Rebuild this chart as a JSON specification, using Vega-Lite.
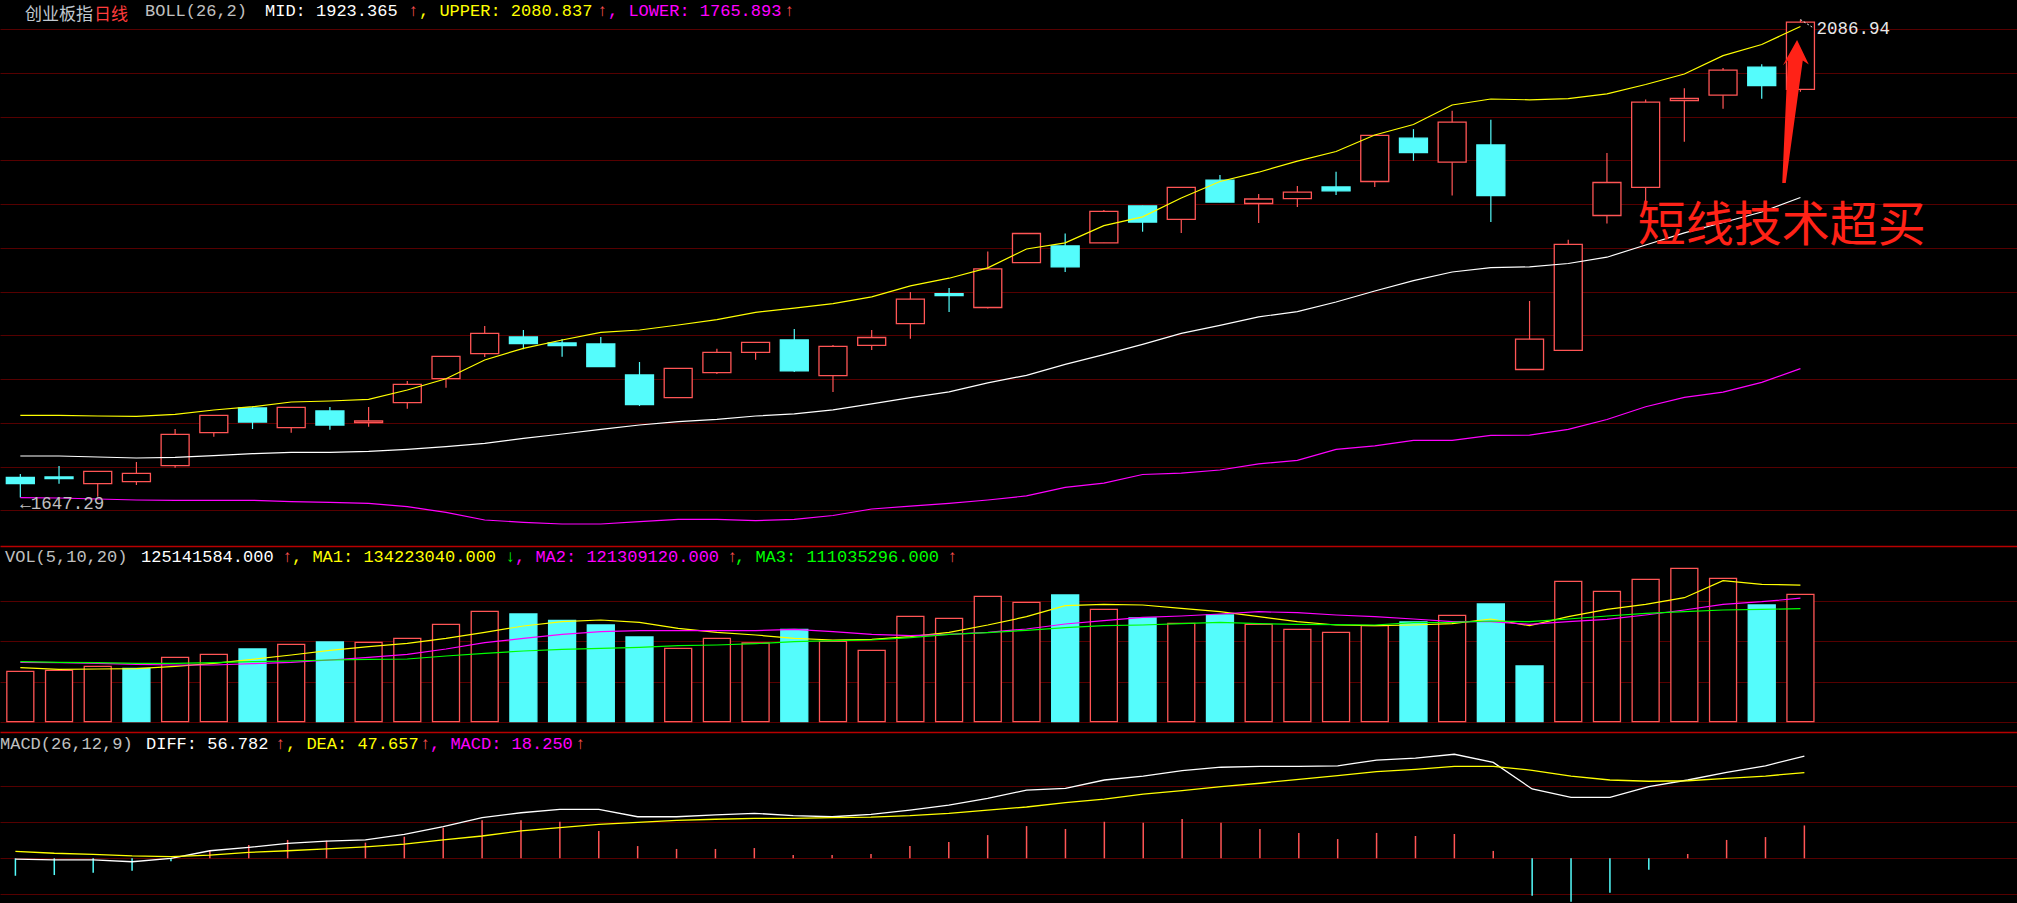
{
"$schema": "https://vega.github.io/schema/vega-lite/v6.json",
"background": "#000000",
"padding": 0,
"spacing": 0,
"bounds": "flush",
"config": {
 "view": {"stroke": null},
 "axis": {"labels": false, "ticks": false, "domain": false, "grid": false, "gridColor": "#560000", "gridWidth": 1, "gridOpacity": 1},
 "text": {"font": "Liberation Mono", "fontSize": 17}
},
"datasets": {
 "k": [
{"i":0,"o":1665.9,"h":1668.94,"l":1647.29,"c":1660.01,"up":1722.96,"mid":1685.5,"lo":1647.13,"vol":49510000,"vup":true,"ma1":53040000,"ma2":58350000,"ma3":58940000,"diff":-0.4,"dea":3.9,"macd":-9.7},
{"i":1,"o":1666.18,"h":1676.3,"l":1660.01,"c":1664.61,"up":1722.96,"mid":1685.5,"lo":1646.85,"vol":50490000,"vup":true,"ma1":51470000,"ma2":57950000,"ma3":58350000,"diff":-0.9,"dea":2.8,"macd":-9.3},
{"i":2,"o":1660.01,"h":1671.6,"l":1648.05,"c":1671.42,"up":1722.32,"mid":1684.58,"lo":1645.93,"vol":54420000,"vup":true,"ma1":51770000,"ma2":57360000,"ma3":57950000,"diff":-0.9,"dea":2.2,"macd":-8.0},
{"i":3,"o":1661.85,"h":1679.98,"l":1658.81,"c":1669.58,"up":1722.04,"mid":1683.66,"lo":1645.01,"vol":52450000,"vup":false,"ma1":52060000,"ma2":56380000,"ma3":57360000,"diff":-1.9,"dea":1.3,"macd":-6.9},
{"i":4,"o":1676.57,"h":1710.35,"l":1674.73,"c":1705.47,"up":1723.88,"mid":1684.31,"lo":1644.73,"vol":63260000,"vup":true,"ma1":54420000,"ma2":55690000,"ma3":57360000,"diff":0.0,"dea":0.9,"macd":-1.6},
{"i":5,"o":1706.94,"h":1723.3,"l":1703.26,"c":1722.96,"up":1727.84,"mid":1685.78,"lo":1644.73,"vol":66200000,"vup":true,"ma1":57360000,"ma2":55690000,"ma3":57950000,"diff":4.2,"dea":1.8,"macd":4.6},
{"i":6,"o":1729.68,"h":1730.87,"l":1710.35,"c":1716.79,"up":1730.87,"mid":1687.62,"lo":1644.73,"vol":71410000,"vup":false,"ma1":61290000,"ma2":56970000,"ma3":58940000,"diff":6.1,"dea":3.3,"macd":7.4},
{"i":7,"o":1711.55,"h":1730.5,"l":1706.95,"c":1730.32,"up":1735.2,"mid":1688.91,"lo":1643.45,"vol":76030000,"vup":true,"ma1":65520000,"ma2":58350000,"ma3":59620000,"diff":8.3,"dea":4.2,"macd":10.2},
{"i":8,"o":1726.91,"h":1730.59,"l":1709.71,"c":1714.03,"up":1736.12,"mid":1688.91,"lo":1642.89,"vol":78290000,"vup":false,"ma1":70130000,"ma2":60610000,"ma3":60610000,"diff":9.6,"dea":5.2,"macd":9.8},
{"i":9,"o":1716.15,"h":1730.59,"l":1712.47,"c":1717.71,"up":1737.68,"mid":1689.83,"lo":1641.97,"vol":77990000,"vup":true,"ma1":73670000,"ma2":63260000,"ma3":61290000,"diff":10.2,"dea":6.4,"macd":8.7},
{"i":10,"o":1734.56,"h":1754.53,"l":1729.03,"c":1751.49,"up":1746.24,"mid":1691.67,"lo":1638.84,"vol":81920000,"vup":true,"ma1":77010000,"ma2":66200000,"ma3":61590000,"diff":13.3,"dea":7.9,"macd":12.0},
{"i":11,"o":1756.64,"h":1777.6,"l":1748.36,"c":1777.25,"up":1756.64,"mid":1694.06,"lo":1633.69,"vol":95670000,"vup":true,"ma1":81920000,"ma2":71410000,"ma3":64530000,"diff":17.6,"dea":10.2,"macd":17.0},
{"i":12,"o":1779.65,"h":1805.14,"l":1776.61,"c":1798.42,"up":1773.85,"mid":1697.19,"lo":1626.6,"vol":108440000,"vup":true,"ma1":87820000,"ma2":77600000,"ma3":67190000,"diff":22.6,"dea":12.4,"macd":21.1},
{"i":13,"o":1795.02,"h":1801.46,"l":1783.69,"c":1788.85,"up":1784.62,"mid":1701.79,"lo":1624.49,"vol":105790000,"vup":false,"ma1":94000000,"ma2":81920000,"ma3":69450000,"diff":25.3,"dea":15.2,"macd":21.1},
{"i":14,"o":1789.5,"h":1793.18,"l":1776.89,"c":1787.01,"up":1792.26,"mid":1705.75,"lo":1622.92,"vol":99600000,"vup":false,"ma1":98230000,"ma2":85850000,"ma3":71120000,"diff":27.2,"dea":17.0,"macd":20.3},
{"i":15,"o":1788.58,"h":1795.02,"l":1767.4,"c":1767.69,"up":1799.34,"mid":1710.07,"lo":1622.92,"vol":94990000,"vup":false,"ma1":99900000,"ma2":88400000,"ma3":72100000,"diff":27.2,"dea":18.9,"macd":15.2},
{"i":16,"o":1760.05,"h":1772.01,"l":1731.52,"c":1732.71,"up":1801.46,"mid":1714.03,"lo":1625.04,"vol":83200000,"vup":false,"ma1":97640000,"ma2":89390000,"ma3":73080000,"diff":23.1,"dea":20.0,"macd":6.8},
{"i":17,"o":1739.16,"h":1766.4,"l":1739.0,"c":1766.21,"up":1806.06,"mid":1717.07,"lo":1627.25,"vol":72100000,"vup":true,"ma1":91740000,"ma2":89390000,"ma3":74650000,"diff":23.1,"dea":21.1,"macd":5.2},
{"i":18,"o":1762.26,"h":1784.16,"l":1760.97,"c":1780.94,"up":1811.03,"mid":1719.19,"lo":1627.25,"vol":81920000,"vup":true,"ma1":87820000,"ma2":89390000,"ma3":75340000,"diff":24.1,"dea":21.7,"macd":5.2},
{"i":19,"o":1780.94,"h":1790.4,"l":1774.04,"c":1790.14,"up":1817.75,"mid":1722.32,"lo":1625.96,"vol":77300000,"vup":true,"ma1":85160000,"ma2":89390000,"ma3":76620000,"diff":25.0,"dea":22.2,"macd":5.7},
{"i":20,"o":1792.35,"h":1802.47,"l":1762.9,"c":1763.82,"up":1821.52,"mid":1724.25,"lo":1627.25,"vol":90760000,"vup":false,"ma1":81920000,"ma2":90760000,"ma3":78580000,"diff":23.7,"dea":22.2,"macd":1.8},
{"i":21,"o":1759.4,"h":1787.66,"l":1744.49,"c":1786.37,"up":1825.66,"mid":1728.02,"lo":1630.75,"vol":78970000,"vup":true,"ma1":80250000,"ma2":88400000,"ma3":79560000,"diff":23.1,"dea":22.6,"macd":1.8},
{"i":22,"o":1787.29,"h":1801.55,"l":1783.14,"c":1794.56,"up":1832.01,"mid":1733.45,"lo":1636.73,"vol":70130000,"vup":true,"ma1":80940000,"ma2":85850000,"ma3":80250000,"diff":24.4,"dea":22.9,"macd":2.4},
{"i":23,"o":1807.26,"h":1836.43,"l":1793.36,"c":1829.81,"up":1842.14,"mid":1739.16,"lo":1639.3,"vol":103530000,"vup":true,"ma1":83490000,"ma2":84480000,"ma3":82510000,"diff":26.8,"dea":23.7,"macd":6.8},
{"i":24,"o":1834.87,"h":1840.2,"l":1818.03,"c":1833.21,"up":1849.13,"mid":1744.49,"lo":1641.88,"vol":101570000,"vup":true,"ma1":87820000,"ma2":85850000,"ma3":85850000,"diff":29.6,"dea":25.0,"macd":9.1},
{"i":25,"o":1822.16,"h":1873.8,"l":1821.25,"c":1857.69,"up":1858.61,"mid":1752.78,"lo":1645.01,"vol":123180000,"vup":true,"ma1":94990000,"ma2":87820000,"ma3":87420000,"diff":33.3,"dea":26.8,"macd":12.9},
{"i":26,"o":1863.4,"h":1890.5,"l":1863.2,"c":1890.27,"up":1876.01,"mid":1759.77,"lo":1648.78,"vol":117280000,"vup":true,"ma1":103140000,"ma2":91060000,"ma3":89780000,"diff":37.9,"dea":28.5,"macd":17.9},
{"i":27,"o":1878.86,"h":1890.27,"l":1854.84,"c":1859.54,"up":1881.71,"mid":1769.89,"lo":1656.7,"vol":124450000,"vup":false,"ma1":113940000,"ma2":95970000,"ma3":92330000,"diff":38.9,"dea":30.9,"macd":16.3},
{"i":28,"o":1881.71,"h":1911.9,"l":1881.5,"c":1910.61,"up":1897.54,"mid":1778.73,"lo":1660.56,"vol":110410000,"vup":true,"ma1":115320000,"ma2":99210000,"ma3":94300000,"diff":43.5,"dea":32.9,"macd":20.3},
{"i":29,"o":1915.67,"h":1915.9,"l":1891.93,"c":1900.76,"up":1905.55,"mid":1788.21,"lo":1668.48,"vol":101860000,"vup":false,"ma1":114630000,"ma2":102550000,"ma3":94990000,"diff":45.7,"dea":35.6,"macd":19.8},
{"i":30,"o":1903.25,"h":1933.0,"l":1890.64,"c":1932.79,"up":1922.94,"mid":1798.42,"lo":1669.77,"vol":96660000,"vup":true,"ma1":111390000,"ma2":103830000,"ma3":96260000,"diff":48.7,"dea":37.6,"macd":21.8},
{"i":31,"o":1939.41,"h":1944.2,"l":1919.0,"c":1919.16,"up":1938.13,"mid":1805.69,"lo":1672.62,"vol":104810000,"vup":false,"ma1":108050000,"ma2":105790000,"ma3":97640000,"diff":50.6,"dea":39.8,"macd":19.8},
{"i":32,"o":1917.88,"h":1926.71,"l":1899.84,"c":1922.02,"up":1946.68,"mid":1813.61,"lo":1678.33,"vol":95670000,"vup":true,"ma1":103140000,"ma2":108050000,"ma3":96260000,"diff":51.1,"dea":41.7,"macd":16.3},
{"i":33,"o":1922.29,"h":1933.98,"l":1914.66,"c":1928.37,"up":1956.81,"mid":1818.39,"lo":1681.45,"vol":90760000,"vup":true,"ma1":98230000,"ma2":107070000,"ma3":95670000,"diff":51.1,"dea":43.9,"macd":14.1},
{"i":34,"o":1933.06,"h":1947.05,"l":1925.79,"c":1929.57,"up":1965.73,"mid":1827.23,"lo":1691.58,"vol":87820000,"vup":true,"ma1":94990000,"ma2":104810000,"ma3":95280000,"diff":51.4,"dea":45.9,"macd":10.7},
{"i":35,"o":1938.13,"h":1980.9,"l":1933.06,"c":1980.64,"up":1980.92,"mid":1837.35,"lo":1694.8,"vol":94300000,"vup":true,"ma1":94300000,"ma2":103140000,"ma3":94990000,"diff":54.6,"dea":48.1,"macd":14.1},
{"i":36,"o":1977.97,"h":1986.35,"l":1957.18,"c":1964.81,"up":1990.58,"mid":1846.92,"lo":1699.86,"vol":97930000,"vup":false,"ma1":94990000,"ma2":100880000,"ma3":97250000,"diff":55.6,"dea":49.4,"macd":12.4},
{"i":37,"o":1955.89,"h":2003.28,"l":1925.15,"c":1992.7,"up":2008.53,"mid":1854.84,"lo":1699.86,"vol":104510000,"vup":true,"ma1":96260000,"ma2":98230000,"ma3":97640000,"diff":57.8,"dea":51.1,"macd":13.5},
{"i":38,"o":1971.72,"h":1994.91,"l":1900.85,"c":1925.15,"up":2014.05,"mid":1858.89,"lo":1704.46,"vol":115610000,"vup":false,"ma1":100880000,"ma2":98230000,"ma3":98920000,"diff":53.3,"dea":51.1,"macd":4.1},
{"i":39,"o":1765.11,"h":1828.15,"l":1765.0,"c":1793.0,"up":2013.31,"mid":1859.53,"lo":1704.64,"vol":54710000,"vup":false,"ma1":94300000,"ma2":95670000,"ma3":98230000,"diff":38.5,"dea":48.9,"macd":-20.8},
{"i":40,"o":1782.69,"h":1884.47,"l":1782.5,"c":1880.33,"up":2014.33,"mid":1862.66,"lo":1710.07,"vol":137910000,"vup":true,"ma1":103140000,"ma2":98230000,"ma3":100880000,"diff":33.9,"dea":45.7,"macd":-24.1},
{"i":41,"o":1906.84,"h":1964.45,"l":1899.47,"c":1937.21,"up":2018.84,"mid":1868.46,"lo":1719.09,"vol":128090000,"vup":true,"ma1":110410000,"ma2":100580000,"ma3":103830000,"diff":33.9,"dea":43.5,"macd":-19.1},
{"i":42,"o":1932.79,"h":2013.68,"l":1918.3,"c":2011.11,"up":2027.39,"mid":1879.69,"lo":1730.87,"vol":139880000,"vup":true,"ma1":115320000,"ma2":104810000,"ma3":106480000,"diff":39.8,"dea":42.8,"macd":-6.3},
{"i":43,"o":2012.67,"h":2023.9,"l":1974.66,"c":2014.6,"up":2037.06,"mid":1890.82,"lo":1739.53,"vol":150680000,"vup":true,"ma1":121800000,"ma2":109720000,"ma3":108050000,"diff":43.5,"dea":43.1,"macd":2.4},
{"i":44,"o":2017.55,"h":2042.49,"l":2005.03,"c":2040.55,"up":2053.99,"mid":1900.39,"lo":1744.31,"vol":140860000,"vup":true,"ma1":138500000,"ma2":115320000,"ma3":109720000,"diff":47.8,"dea":44.4,"macd":10.2},
{"i":45,"o":2043.41,"h":2045.99,"l":2014.33,"c":2026.48,"up":2064.21,"mid":1910.06,"lo":1753.33,"vol":114630000,"vup":false,"ma1":134960000,"ma2":117870000,"ma3":110410000,"diff":51.4,"dea":45.7,"macd":11.8},
{"i":46,"o":2022.98,"h":2086.94,"l":2020.68,"c":2084.73,"up":2080.837,"mid":1923.365,"lo":1765.893,"vol":125141584,"vup":true,"ma1":134223040,"ma2":121309120,"ma3":111035296,"diff":56.782,"dea":47.657,"macd":18.25}
 ]
},
"vconcat": [
 {
  "width": 2017, "height": 546,
  "layer": [
   {"data": {"name": "k"}, "mark": {"type": "rule", "strokeWidth": 1.2},
    "encoding": {
     "x": {"field": "i", "type": "quantitative", "title": null, "scale": {"domain": [-0.396, 51.467], "nice": false, "zero": false}, "axis": null},
     "y": {"field": "l", "type": "quantitative", "title": null, "scale": {"domain": [1602.68, 2105.16], "nice": false, "zero": false}, "axis": {"values": [1635.5, 1675.74, 1715.99, 1756.23, 1796.48, 1836.73, 1876.97, 1917.22, 1957.46, 1997.71, 2037.95, 2078.2], "grid": true, "title": null}},
     "y2": {"field": "h"},
     "color": {"condition": {"test": "datum.c >= datum.o", "value": "#FF5555"}, "value": "#54FCFC"}
    }},
   {"data": {"name": "k"}, "mark": {"type": "bar", "width": 28, "strokeWidth": 1.3},
    "encoding": {
     "x": {"field": "i", "type": "quantitative", "title": null},
     "y": {"field": "o", "type": "quantitative", "title": null},
     "y2": {"field": "c"},
     "fill": {"condition": {"test": "datum.c >= datum.o", "value": "#000000"}, "value": "#54FCFC"},
     "stroke": {"condition": {"test": "datum.c >= datum.o", "value": "#FF5555"}, "value": "#54FCFC"}
    }},
   {"data": {"name": "k"}, "mark": {"type": "line", "color": "#FFFF00", "strokeWidth": 1.2}, "encoding": {"x": {"field": "i", "type": "quantitative", "title": null}, "y": {"field": "up", "type": "quantitative", "title": null}}},
   {"data": {"name": "k"}, "mark": {"type": "line", "color": "#FFFFFF", "strokeWidth": 1.2}, "encoding": {"x": {"field": "i", "type": "quantitative", "title": null}, "y": {"field": "mid", "type": "quantitative", "title": null}}},
   {"data": {"name": "k"}, "mark": {"type": "line", "color": "#FF00FF", "strokeWidth": 1.2}, "encoding": {"x": {"field": "i", "type": "quantitative", "title": null}, "y": {"field": "lo", "type": "quantitative", "title": null}}},
   {"data": {"values": [{}]}, "mark": {"type": "text", "align": "left", "baseline": "alphabetic", "font": "Noto Sans CJK SC", "fontSize": 17, "dx": 20, "color": "#C0C8D0"}, "encoding": {"x": {"datum": -0.396, "type": "quantitative"}, "y": {"datum": 2087.2, "type": "quantitative"}, "text": {"value": "创业板指"}}},
   {"data": {"values": [{}]}, "mark": {"type": "text", "align": "left", "baseline": "alphabetic", "font": "Noto Sans CJK SC", "fontSize": 17, "dx": 89, "color": "#FF3C3C"}, "encoding": {"x": {"datum": -0.396, "type": "quantitative"}, "y": {"datum": 2087.2, "type": "quantitative"}, "text": {"value": "日线"}}},
   {"data": {"values": [{}]}, "mark": {"type": "text", "align": "left", "baseline": "middle", "dx": 140, "color": "#C0C0C0"}, "encoding": {"x": {"datum": -0.396, "type": "quantitative"}, "y": {"datum": 2095, "type": "quantitative"}, "text": {"value": "BOLL(26,2)"}}},
   {"data": {"values": [{}]}, "mark": {"type": "text", "align": "left", "baseline": "middle", "dx": 260, "color": "#FFFFFF"}, "encoding": {"x": {"datum": -0.396, "type": "quantitative"}, "y": {"datum": 2095, "type": "quantitative"}, "text": {"value": "MID: 1923.365"}}},
   {"data": {"values": [{}]}, "mark": {"type": "text", "align": "center", "baseline": "middle", "dx": 408, "color": "#FF5050"}, "encoding": {"x": {"datum": -0.396, "type": "quantitative"}, "y": {"datum": 2095, "type": "quantitative"}, "text": {"value": "↑"}}},
   {"data": {"values": [{}]}, "mark": {"type": "text", "align": "left", "baseline": "middle", "dx": 414, "color": "#FFFF00"}, "encoding": {"x": {"datum": -0.396, "type": "quantitative"}, "y": {"datum": 2095, "type": "quantitative"}, "text": {"value": ", UPPER: 2080.837"}}},
   {"data": {"values": [{}]}, "mark": {"type": "text", "align": "center", "baseline": "middle", "dx": 597, "color": "#FF5050"}, "encoding": {"x": {"datum": -0.396, "type": "quantitative"}, "y": {"datum": 2095, "type": "quantitative"}, "text": {"value": "↑"}}},
   {"data": {"values": [{}]}, "mark": {"type": "text", "align": "left", "baseline": "middle", "dx": 603, "color": "#FF00FF"}, "encoding": {"x": {"datum": -0.396, "type": "quantitative"}, "y": {"datum": 2095, "type": "quantitative"}, "text": {"value": ", LOWER: 1765.893"}}},
   {"data": {"values": [{}]}, "mark": {"type": "text", "align": "center", "baseline": "middle", "dx": 784, "color": "#FF5050"}, "encoding": {"x": {"datum": -0.396, "type": "quantitative"}, "y": {"datum": 2095, "type": "quantitative"}, "text": {"value": "↑"}}},
   {"data": {"values": [{"label": "←1647.29", "i": 0, "p": 1647.29}]}, "mark": {"type": "text", "align": "left", "baseline": "middle", "dy": 6, "fontSize": 17.5, "color": "#C0C0C0"}, "encoding": {"x": {"field": "i", "type": "quantitative", "title": null}, "y": {"field": "p", "type": "quantitative", "title": null}, "text": {"field": "label"}}},
   {"data": {"values": [{"i": 46, "p": 2087.2}, {"i": 46.33, "p": 2079.6}]}, "mark": {"type": "line", "color": "#E8E8E8", "strokeWidth": 1, "strokeDash": [2, 2]}, "encoding": {"x": {"field": "i", "type": "quantitative", "title": null}, "y": {"field": "p", "type": "quantitative", "title": null}}},
   {"data": {"values": [{"label": "2086.94", "i": 46, "p": 2086.94}]}, "mark": {"type": "text", "align": "left", "baseline": "middle", "dx": 16, "dy": 9, "fontSize": 17.5, "color": "#E8E8E8"}, "encoding": {"x": {"field": "i", "type": "quantitative", "title": null}, "y": {"field": "p", "type": "quantitative", "title": null}, "text": {"field": "label"}}},
   {"data": {"values": [{}]}, "mark": {"type": "point", "shape": "M0.088,-1L0.252,-0.657L0.168,-0.713L-0.07,1L-0.119,1L-0.042,-0.713L-0.112,-0.643Z", "size": 20449, "filled": true, "color": "#FF2217", "opacity": 1, "strokeWidth": 0}, "encoding": {"x": {"datum": 45.75, "type": "quantitative"}, "y": {"datum": 2002.55, "type": "quantitative"}}},
   {"data": {"values": [{}]}, "mark": {"type": "text", "align": "center", "baseline": "middle", "font": "Noto Sans CJK SC", "fontSize": 48, "color": "#FF2217"}, "encoding": {"x": {"datum": 45.52, "type": "quantitative"}, "y": {"datum": 1896, "type": "quantitative"}, "text": {"value": "短线技术超买"}}}
  ]
 },
 {
  "width": 2017, "height": 186,
  "layer": [
   {"data": {"name": "k"}, "mark": {"type": "bar", "width": 27, "strokeWidth": 1.3},
    "encoding": {
     "x": {"field": "i", "type": "quantitative", "title": null, "scale": {"domain": [-0.396, 51.467], "nice": false, "zero": false}, "axis": {"orient": "top", "domain": true, "domainColor": "#B80000", "domainWidth": 1.6, "grid": false, "labels": false, "ticks": false, "title": null}},
     "y": {"field": "vol", "type": "quantitative", "title": null, "scale": {"domain": [-10120000, 172590000], "nice": false, "zero": false}, "axis": {"values": [0, 39290000, 79560000, 118850000], "grid": true, "title": null}},
     "y2": {"datum": 0},
     "fill": {"condition": {"test": "datum.vup", "value": "#000000"}, "value": "#54FCFC"},
     "stroke": {"condition": {"test": "datum.vup", "value": "#FF5555"}, "value": "#54FCFC"}
    }},
   {"data": {"name": "k"}, "mark": {"type": "line", "color": "#FFFF00", "strokeWidth": 1.2}, "encoding": {"x": {"field": "i", "type": "quantitative", "title": null}, "y": {"field": "ma1", "type": "quantitative", "title": null}}},
   {"data": {"name": "k"}, "mark": {"type": "line", "color": "#FF00FF", "strokeWidth": 1.2}, "encoding": {"x": {"field": "i", "type": "quantitative", "title": null}, "y": {"field": "ma2", "type": "quantitative", "title": null}}},
   {"data": {"name": "k"}, "mark": {"type": "line", "color": "#00FF00", "strokeWidth": 1.2}, "encoding": {"x": {"field": "i", "type": "quantitative", "title": null}, "y": {"field": "ma3", "type": "quantitative", "title": null}}},
   {"data": {"values": [{}]}, "mark": {"type": "text", "align": "left", "baseline": "middle", "dx": 0, "color": "#C0C0C0"}, "encoding": {"x": {"datum": -0.396, "type": "quantitative"}, "y": {"datum": 161300000, "type": "quantitative"}, "text": {"value": "VOL(5,10,20)"}}},
   {"data": {"values": [{}]}, "mark": {"type": "text", "align": "left", "baseline": "middle", "dx": 136, "color": "#FFFFFF"}, "encoding": {"x": {"datum": -0.396, "type": "quantitative"}, "y": {"datum": 161300000, "type": "quantitative"}, "text": {"value": "125141584.000"}}},
   {"data": {"values": [{}]}, "mark": {"type": "text", "align": "center", "baseline": "middle", "dx": 282, "color": "#FF5050"}, "encoding": {"x": {"datum": -0.396, "type": "quantitative"}, "y": {"datum": 161300000, "type": "quantitative"}, "text": {"value": "↑"}}},
   {"data": {"values": [{}]}, "mark": {"type": "text", "align": "left", "baseline": "middle", "dx": 287, "color": "#FFFF00"}, "encoding": {"x": {"datum": -0.396, "type": "quantitative"}, "y": {"datum": 161300000, "type": "quantitative"}, "text": {"value": ", MA1: 134223040.000"}}},
   {"data": {"values": [{}]}, "mark": {"type": "text", "align": "center", "baseline": "middle", "dx": 505, "color": "#00FF00"}, "encoding": {"x": {"datum": -0.396, "type": "quantitative"}, "y": {"datum": 161300000, "type": "quantitative"}, "text": {"value": "↓"}}},
   {"data": {"values": [{}]}, "mark": {"type": "text", "align": "left", "baseline": "middle", "dx": 510, "color": "#FF00FF"}, "encoding": {"x": {"datum": -0.396, "type": "quantitative"}, "y": {"datum": 161300000, "type": "quantitative"}, "text": {"value": ", MA2: 121309120.000"}}},
   {"data": {"values": [{}]}, "mark": {"type": "text", "align": "center", "baseline": "middle", "dx": 727, "color": "#FF5050"}, "encoding": {"x": {"datum": -0.396, "type": "quantitative"}, "y": {"datum": 161300000, "type": "quantitative"}, "text": {"value": "↑"}}},
   {"data": {"values": [{}]}, "mark": {"type": "text", "align": "left", "baseline": "middle", "dx": 730, "color": "#00FF00"}, "encoding": {"x": {"datum": -0.396, "type": "quantitative"}, "y": {"datum": 161300000, "type": "quantitative"}, "text": {"value": ", MA3: 111035296.000"}}},
   {"data": {"values": [{}]}, "mark": {"type": "text", "align": "center", "baseline": "middle", "dx": 947, "color": "#FF5050"}, "encoding": {"x": {"datum": -0.396, "type": "quantitative"}, "y": {"datum": 161300000, "type": "quantitative"}, "text": {"value": "↑"}}}
  ]
 },
 {
  "width": 2017, "height": 171,
  "layer": [
   {"data": {"name": "k"}, "mark": {"type": "rule", "strokeWidth": 1.5},
    "encoding": {
     "x": {"field": "i", "type": "quantitative", "title": null, "scale": {"domain": [-0.396, 51.467], "nice": false, "zero": false}, "axis": {"orient": "top", "domain": true, "domainColor": "#B80000", "domainWidth": 1.6, "grid": false, "labels": false, "ticks": false, "title": null}},
     "y": {"field": "macd", "type": "quantitative", "title": null, "scale": {"domain": [-24.83, 70.17], "nice": false, "zero": false}, "axis": {"values": [-20, 0, 20, 40], "grid": true, "title": null}},
     "y2": {"datum": 0},
     "color": {"condition": {"test": "datum.macd >= 0", "value": "#FF5555"}, "value": "#54FCFC"}
    }},
   {"data": {"name": "k"}, "mark": {"type": "line", "color": "#FFFFFF", "strokeWidth": 1.3}, "encoding": {"x": {"field": "i", "type": "quantitative", "title": null}, "y": {"field": "diff", "type": "quantitative", "title": null}}},
   {"data": {"name": "k"}, "mark": {"type": "line", "color": "#FFFF00", "strokeWidth": 1.3}, "encoding": {"x": {"field": "i", "type": "quantitative", "title": null}, "y": {"field": "dea", "type": "quantitative", "title": null}}},
   {"data": {"values": [{}]}, "mark": {"type": "text", "align": "left", "baseline": "middle", "dx": 0, "color": "#C0C0C0"}, "encoding": {"x": {"datum": -0.396, "type": "quantitative"}, "y": {"datum": 63.5, "type": "quantitative"}, "text": {"value": "MACD(26,12,9)"}}},
   {"data": {"values": [{}]}, "mark": {"type": "text", "align": "left", "baseline": "middle", "dx": 146, "color": "#FFFFFF"}, "encoding": {"x": {"datum": -0.396, "type": "quantitative"}, "y": {"datum": 63.5, "type": "quantitative"}, "text": {"value": "DIFF: 56.782"}}},
   {"data": {"values": [{}]}, "mark": {"type": "text", "align": "center", "baseline": "middle", "dx": 280, "color": "#FF5050"}, "encoding": {"x": {"datum": -0.396, "type": "quantitative"}, "y": {"datum": 63.5, "type": "quantitative"}, "text": {"value": "↑"}}},
   {"data": {"values": [{}]}, "mark": {"type": "text", "align": "left", "baseline": "middle", "dx": 286, "color": "#FFFF00"}, "encoding": {"x": {"datum": -0.396, "type": "quantitative"}, "y": {"datum": 63.5, "type": "quantitative"}, "text": {"value": ", DEA: 47.657"}}},
   {"data": {"values": [{}]}, "mark": {"type": "text", "align": "center", "baseline": "middle", "dx": 425, "color": "#FF5050"}, "encoding": {"x": {"datum": -0.396, "type": "quantitative"}, "y": {"datum": 63.5, "type": "quantitative"}, "text": {"value": "↑"}}},
   {"data": {"values": [{}]}, "mark": {"type": "text", "align": "left", "baseline": "middle", "dx": 430, "color": "#FF00FF"}, "encoding": {"x": {"datum": -0.396, "type": "quantitative"}, "y": {"datum": 63.5, "type": "quantitative"}, "text": {"value": ", MACD: 18.250"}}},
   {"data": {"values": [{}]}, "mark": {"type": "text", "align": "center", "baseline": "middle", "dx": 580, "color": "#FF5050"}, "encoding": {"x": {"datum": -0.396, "type": "quantitative"}, "y": {"datum": 63.5, "type": "quantitative"}, "text": {"value": "↑"}}}
  ]
 }
]
}
